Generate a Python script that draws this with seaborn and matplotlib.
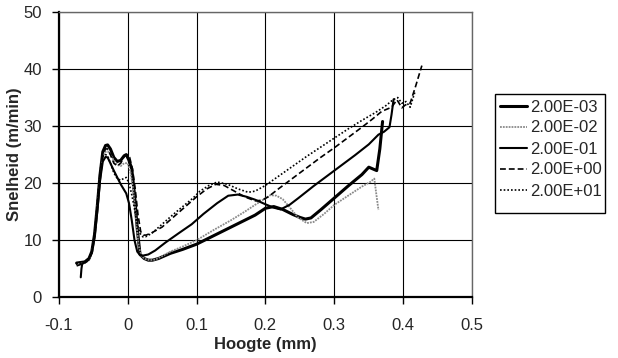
import matplotlib
matplotlib.use("Agg")
import matplotlib.pyplot as plt
from matplotlib.patches import Rectangle
import seaborn as sns
import pandas as pd

# Snelheid (m/min) as a function of Hoogte (mm) for five strain rates
labels = ["2.00E-03", "2.00E-02", "2.00E-01", "2.00E+00", "2.00E+01"]

x_e03 = [-0.074, -0.062, -0.056, -0.052, -0.048, -0.044, -0.040, -0.036, -0.032, -0.029,
         -0.025, -0.020, -0.015, -0.010, -0.005, -0.002, 0.002, 0.006, 0.010, 0.014,
         0.018, 0.024, 0.030, 0.036, 0.045, 0.062, 0.080, 0.100, 0.125, 0.150,
         0.170, 0.185, 0.200, 0.212, 0.225, 0.240, 0.250, 0.258, 0.266, 0.280,
         0.300, 0.320, 0.340, 0.350, 0.3615, 0.366, 0.370]
y_e03 = [6.0, 6.2, 6.8, 8.0, 11.0, 16.0, 21.5, 25.5, 26.6, 26.7,
         26.0, 24.5, 23.8, 24.0, 24.8, 25.0, 24.0, 22.5, 18.0, 12.0,
         7.5, 6.8, 6.5, 6.5, 6.8, 7.7, 8.4, 9.3, 10.8, 12.3,
         13.5, 14.4, 15.6, 15.9, 15.4, 14.5, 14.0, 13.7, 13.9, 15.3,
         17.4, 19.5, 21.5, 22.8, 22.2, 26.0, 30.8]

x_e02 = [-0.072, -0.062, -0.056, -0.052, -0.048, -0.044, -0.040, -0.036, -0.032, -0.029,
         -0.025, -0.020, -0.015, -0.010, -0.005, 0.000, 0.004, 0.008, 0.012, 0.016,
         0.020, 0.026, 0.032, 0.040, 0.050, 0.062, 0.080, 0.100, 0.125, 0.150,
         0.170, 0.185, 0.198, 0.207, 0.216, 0.225, 0.235, 0.247, 0.260, 0.270,
         0.285, 0.300, 0.320, 0.340, 0.352, 0.358, 0.361, 0.364]
y_e02 = [5.8, 6.0, 6.5, 7.8, 10.5, 15.5, 21.0, 24.5, 25.5, 25.6,
         25.0, 24.0, 23.2, 23.0, 23.5, 23.5, 22.0, 19.0, 14.0, 9.0,
         7.2, 6.7, 6.5, 6.6, 7.2, 8.0, 8.9, 10.0, 11.8, 13.5,
         15.0, 16.2, 17.2, 17.9, 17.8, 17.2, 15.8, 14.0, 13.0, 13.2,
         14.6, 16.2, 17.8, 19.4, 20.2, 20.8, 18.0, 15.3]

x_e01 = [-0.068, -0.067, -0.066, -0.062, -0.056, -0.052, -0.048, -0.044, -0.040, -0.036,
         -0.032, -0.029, -0.025, -0.020, -0.015, -0.010, -0.006, -0.002, 0.002, 0.006,
         0.010, 0.014, 0.018, 0.022, 0.030, 0.040, 0.055, 0.075, 0.093, 0.110,
         0.130, 0.146, 0.160, 0.173, 0.185, 0.200, 0.212, 0.222, 0.235, 0.248,
         0.270, 0.300, 0.330, 0.350, 0.364, 0.372, 0.380, 0.383, 0.386]
y_e01 = [3.5, 5.0, 5.8, 6.2, 6.8, 7.8, 10.5, 15.0, 20.5, 23.8,
         24.6, 24.5, 23.5, 22.2, 21.0, 19.8, 19.0, 18.2, 16.5, 13.5,
         10.0, 8.0, 7.4, 7.3, 7.5, 8.2, 9.6, 11.3, 12.8, 14.6,
         16.5, 17.8, 18.0, 17.6, 17.1, 16.3, 15.7, 15.4, 16.2, 17.4,
         19.5, 22.2, 24.9, 26.8, 28.5, 29.0, 29.8, 32.0, 34.7]

x_e00 = [-0.074, -0.062, -0.056, -0.052, -0.048, -0.044, -0.040, -0.036, -0.032, -0.029,
         -0.025, -0.020, -0.015, -0.010, -0.005, -0.001, 0.003, 0.007, 0.011, 0.015,
         0.019, 0.023, 0.027, 0.035, 0.050, 0.065, 0.083, 0.100, 0.115, 0.128,
         0.140, 0.155, 0.170, 0.185, 0.195, 0.204, 0.220, 0.240, 0.260, 0.280,
         0.300, 0.320, 0.340, 0.355, 0.369, 0.383, 0.391, 0.398, 0.403, 0.410,
         0.418, 0.427]
y_e00 = [5.5, 6.0, 6.6, 7.8, 10.8, 16.0, 22.0, 25.0, 26.0, 26.0,
         25.0, 23.5, 23.0, 23.5, 24.7, 25.0, 24.5, 22.5, 19.0, 14.5,
         11.5, 10.9, 10.9, 11.3, 12.3, 13.9, 15.8, 17.6, 19.0, 19.8,
         19.6, 18.6, 17.6, 16.9, 17.0, 17.6, 19.1, 20.9, 22.7, 24.5,
         26.2, 28.0, 29.8, 31.2, 32.6, 33.3, 34.6, 33.2, 33.7, 34.0,
         37.0, 40.6]

x_e01p = [-0.075, -0.062, -0.056, -0.052, -0.048, -0.044, -0.040, -0.036, -0.032, -0.029,
          -0.025, -0.020, -0.015, -0.010, -0.006, -0.002, 0.002, 0.006, 0.010, 0.014,
          0.018, 0.022, 0.026, 0.035, 0.050, 0.065, 0.083, 0.095, 0.105, 0.118,
          0.130, 0.145, 0.160, 0.175, 0.185, 0.200, 0.220, 0.240, 0.260, 0.280,
          0.300, 0.320, 0.340, 0.360, 0.375, 0.385, 0.392, 0.398, 0.404, 0.410,
          0.417]
y_e01p = [5.8, 6.1, 6.7, 8.0, 11.0, 16.5, 22.0, 24.6, 25.0, 24.8,
          23.5, 21.8, 20.8, 20.5, 20.8, 21.0, 20.0, 18.0, 15.5, 12.8,
          11.2, 10.6, 10.6, 11.2, 12.8, 14.4, 16.2, 17.4, 18.6, 19.6,
          20.2, 19.8, 19.0, 18.4, 18.6, 19.6, 21.3, 23.0, 24.7, 26.3,
          27.9, 29.5, 31.0, 32.4, 33.6, 34.6, 35.0, 34.0, 34.3, 33.3,
          36.0]

x_ticks = [-0.1, 0, 0.1, 0.2, 0.3, 0.4, 0.5]
x_ticklabels = ["-0.1", "0", "0.1", "0.2", "0.3", "0.4", "0.5"]
y_ticks = [0, 10, 20, 30, 40, 50]

series = [
    (labels[0], x_e03, y_e03, dict(color="black", lw=2.2, ls="-")),
    (labels[1], x_e02, y_e02, dict(color="#8a8a8a", lw=1.3, ls=(0, (1, 0.6)))),
    (labels[2], x_e01, y_e01, dict(color="black", lw=1.5, ls="-")),
    (labels[3], x_e00, y_e00, dict(color="black", lw=1.2, ls=(0, (3.5, 1.8)))),
    (labels[4], x_e01p, y_e01p, dict(color="black", lw=1.2, ls=(0, (1, 1.2)))),
]

sns.set_style("white")
plt.rcParams["font.family"] = ["Liberation Sans", "DejaVu Sans"]

W, H = 618, 358
fig = plt.figure(figsize=(W / 100, H / 100), dpi=100)
ax = fig.add_axes([0.095, 0.1696, 0.669, 0.797])

for name, xs, ys, style in series:
    df = pd.DataFrame({"Hoogte": xs, "Snelheid": ys})
    sns.lineplot(data=df, x="Hoogte", y="Snelheid", ax=ax, sort=False,
                 estimator=None, label=name, color=style["color"],
                 linewidth=style["lw"], linestyle=style["ls"])

ax.set_xlim(-0.1, 0.5)
ax.set_ylim(0, 50)
ax.set_xticks(x_ticks)
ax.set_xticklabels(x_ticklabels)
ax.set_yticks(y_ticks)

ax.grid(True, color="black", linewidth=0.8)
ax.set_axisbelow(True)
for side in ("left", "bottom"):
    ax.spines[side].set_color("black")
    ax.spines[side].set_linewidth(1.6)
for side in ("top", "right"):
    ax.spines[side].set_color("#666666")
    ax.spines[side].set_linewidth(1.0)

ax.tick_params(axis="both", direction="out", length=5, width=1.0,
               color="black", labelsize=12, left=True, bottom=True)
ax.tick_params(axis="x", pad=10)
ax.tick_params(axis="y", pad=7)

ax.set_xlabel("Hoogte (mm)", fontsize=12, fontweight="bold", va="center")
ax.xaxis.set_label_coords(0.5, -0.167)
ax.set_ylabel("Snelheid (m/min)", fontsize=12, fontweight="bold", va="center")
ax.yaxis.set_label_coords(-0.108, 0.5)

# legend entries without their own frame; the box is drawn separately
leg = ax.legend(loc="upper left", bbox_to_anchor=(500 / W, 1 - 99.5 / H),
                bbox_transform=fig.transFigure, borderaxespad=0, borderpad=0,
                fontsize=12, frameon=False, handlelength=1.6,
                handletextpad=0.18, labelspacing=0.36)
box = Rectangle((495 / W, 1 - 213 / H), 110 / W, 119 / H,
                transform=fig.transFigure, fill=False, edgecolor="black",
                linewidth=1.0)
fig.add_artist(box)

fig.savefig("out.png", dpi=100)
